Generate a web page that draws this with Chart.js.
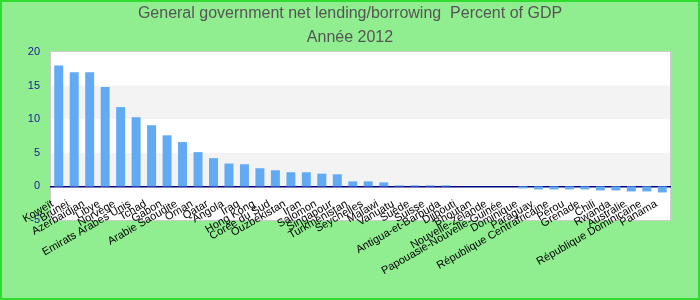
<!DOCTYPE html>
<html>
<head>
<meta charset="utf-8">
<script src="https://cdn.jsdelivr.net/npm/chart.js@4.4.1/dist/chart.umd.min.js"></script>
<style>
  body { margin: 0; }
  #cadre { width: 700px; height: 300px; box-sizing: border-box; border: 2px solid #2fdc2f; background: #90ee90; position: relative; }
</style>
</head>
<body>
<div id="cadre"><canvas id="graphique"></canvas></div>
<script>
// Données : solde budgétaire des administrations publiques, % du PIB, 2012
const pays = [
    'Koweït', 'Brunei', 'Azerbaïdjan', 'Libye', 'Norvège', 'Emirats Arabes Unis', 'Tchad', 'Gabon',
    'Arabie Saoudite', 'Oman', 'Qatar', 'Angola', 'Iraq', 'Hong Kong', 'Corée du Sud', 'Ouzbékistan',
    'Iran', 'Salomon', 'Singapour', 'Turkménistan', 'Seychelles', 'Malawi', 'Vanuatu', 'Suède',
    'Suisse', 'Antigua-et-Barbuda', 'Djibouti', 'Bhoutan', 'Nouvelle-Zélande', 'Papouasie-Nouvelle-Guinée',
    'Dominique', 'Paraguay', 'République Centrafricaine', 'Pérou', 'Grenade', 'Chili', 'Rwanda',
    'Australie', 'République Dominicaine', 'Panama'
];
const valeurs = [
    18.0, 17.0, 17.0, 14.8, 11.8, 10.3, 9.1, 7.6,
    6.6, 5.1, 4.2, 3.4, 3.3, 2.7, 2.4, 2.1,
    2.1, 1.9, 1.8, 0.75, 0.75, 0.6, 0.15, 0.15,
    0.15, 0.15, 0, 0, 0, 0,
    -0.3, -0.45, -0.45, -0.45, -0.45, -0.6, -0.6,
    -0.75, -0.75, -0.9
];
const titre = 'General government net lending/borrowing  Percent of GDP';
const sousTitre = 'Année 2012';
const yMin = -5, yMax = 20, yPas = 5;
// bandes grises (15 à 10, 5 à 0)
const bandes = [[10, 15], [0, 5]];

const police = "'Liberation Sans', Arial, sans-serif";

// Fond blanc + bandes alternées + cadre gris
const fondZone = {
    id: 'fondZone',
    beforeDraw(chart) {
        const { ctx, chartArea: { left, top, right, bottom }, scales: { y } } = chart;
        ctx.save();
        ctx.fillStyle = '#ffffff';
        ctx.fillRect(left, top, right - left, bottom - top);
        ctx.fillStyle = '#f3f3f3';
        bandes.forEach(([a, b]) => {
            const y1 = y.getPixelForValue(b);
            const y2 = y.getPixelForValue(a);
            ctx.fillRect(left, y1, right - left, y2 - y1);
        });
        ctx.strokeStyle = '#cccccc';
        ctx.lineWidth = 1;
        ctx.strokeRect(left - 0.5, top - 0.5, right - left + 1, bottom - top + 1);
        ctx.restore();
    }
};

const ctx = document.getElementById('graphique').getContext('2d');
new Chart(ctx, {
    type: 'bar',
    data: {
        labels: pays,
        datasets: [{ data: valeurs, backgroundColor: '#62aaf4', barPercentage: 0.58, categoryPercentage: 1 }]
    },
    options: {
        responsive: true, maintainAspectRatio: false, animation: false,
        layout: { padding: { top: 0, right: 14, bottom: 78, left: 14 } },
        plugins: {
            legend: { display: false },
            tooltip: { enabled: false },
            title: {
                display: true, text: titre, color: '#555',
                font: { family: police, size: 16, weight: 'normal' },
                padding: { top: 2, bottom: 3 }
            },
            subtitle: {
                display: true, text: sousTitre, color: '#555',
                font: { family: police, size: 16, weight: 'normal' },
                padding: { top: 2, bottom: 4.6 }
            }
        },
        scales: {
            x: {
                position: { y: 0 },
                grid: { display: false },
                border: { color: '#000080', width: 1.5 },
                ticks: {
                    autoSkip: false, maxRotation: 30, minRotation: 30,
                    color: '#000', font: { family: police, size: 11 },
                    labelOffset: -6, padding: 3
                }
            },
            y: {
                min: yMin, max: yMax,
                ticks: { stepSize: yPas, color: '#1a1a99', font: { family: police, size: 11 }, padding: 11 },
                grid: { display: false, drawTicks: false },
                border: { display: false },
                afterFit(s) { s.width = 35; }
            },
            // axe vide à droite : garde la marge sans décentrer le titre
            marge: {
                type: 'linear', position: 'right', axis: 'y',
                ticks: { display: false },
                grid: { display: false, drawTicks: false },
                border: { display: false },
                afterFit(s) { s.width = 14; }
            }
        }
    },
    plugins: [fondZone]
});
</script>
</body>
</html>
